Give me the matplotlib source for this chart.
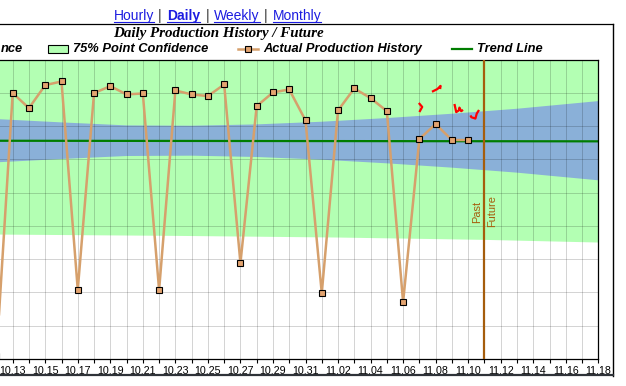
#!/usr/bin/env python3
"""
Daily production history / future chart (web report screenshot style).

Writes out.png, 626x386 px.
"""

import matplotlib
matplotlib.use("Agg")
import matplotlib.pyplot as plt
from matplotlib.lines import Line2D
from matplotlib.patches import Rectangle
from matplotlib.path import Path
import pandas as pd


# ---------------------------------------------------------------------------
# 1. Data
# ---------------------------------------------------------------------------

prod_dates = pd.date_range("2009-10-12", "2009-11-10", freq="D")
production = [
    10, 799, 754, 823, 834, 208, 799, 820, 795, 798,
    207, 807, 795, 790, 825, 288, 760, 801, 810, 717,
    198, 747, 813, 784, 745, 171, 661, 706, 658, 658,
]

trend_dates = pd.to_datetime(["2009-10-08", "2009-11-20"])
trend_values = [656, 654]

# blue band around the trend line
band_dates = pd.to_datetime([
    "2009-10-09", "2009-10-12", "2009-10-16", "2009-10-20", "2009-10-24",
    "2009-10-28", "2009-11-01", "2009-11-05", "2009-11-09", "2009-11-13",
    "2009-11-18",
])
band_upper = [730, 721, 711, 702, 701, 705, 713, 724, 737, 752, 775]
band_lower = [582, 591, 601, 610, 611, 607, 599, 588, 575, 560, 537]

# 75% point confidence (green)
conf_dates = pd.to_datetime([
    "2009-10-09", "2009-10-23", "2009-11-02", "2009-11-11", "2009-11-18",
])
conf_upper = [937, 942, 947, 954, 962]
conf_lower = [375, 370, 365, 358, 350]

split_date = pd.Timestamp("2009-11-11")

tick_days = pd.date_range("2009-10-13", "2009-11-18", freq="D")
tick_labels = [d.strftime("%m.%d") if i % 2 == 0 else "" for i, d in enumerate(tick_days)]

# red hand marks near the latest points
mark_dates = pd.to_datetime([
    "2009-11-08 01:00", "2009-11-07 01:00", "2009-11-09 09:00", "2009-11-10 09:00",
])
mark_values = [812, 758, 754, 736]

nav_items = ["Hourly", "Daily", "Weekly", "Monthly"]
title = "Daily Production History / Future"


# ---------------------------------------------------------------------------
# 2. Styling
# ---------------------------------------------------------------------------

W, H = 626, 386
GREEN_FILL = "#b3ffb3"
BLUE_FILL = "#8ab0d8"
PROD_COLOUR = "#d6a06c"
MARKER_FILL = "#e3a470"
TREND_COLOUR = "#007d00"
SPLIT_COLOUR = "#a55d0c"
LINK_BLUE = "#1c1ce0"
GRID_COLOUR = (0.0, 0.0, 0.0, 0.17)


def fx(px):
    return px / W


def fy(py):
    return 1 - py / H


def mark_path(verts):
    codes = [Path.MOVETO] + [Path.LINETO] * (len(verts) - 1)
    return Path(verts, codes)


MARK_SHAPES = [
    mark_path([(-1, -0.5), (0.2, 0.1), (0.9, 0.8), (0.8, 0.1)]),
    mark_path([(-0.3, 0.8), (0.3, 0.1), (-0.2, -0.8)]),
    mark_path([(-0.9, 1), (-0.5, -0.8), (0.1, -0.4), (0.2, 0.2), (0.6, -0.6), (1, -0.3)]),
    mark_path([(1, 1), (0.5, 0.2), (0.2, -0.9), (-0.7, -0.6), (-0.9, -0.2)]),
]


# ---------------------------------------------------------------------------
# 3. Plot
# ---------------------------------------------------------------------------

fig = plt.figure(figsize=(W / 100, H / 100), dpi=100)
fig.patch.set_facecolor("white")

# axes runs off the left edge of the picture (cropped screenshot)
ax_left, ax_right, ax_top, ax_bottom = -40, 598.3, 59.5, 359
first_tick_px = 12.7
day_px = (ax_right - first_tick_px) / 36
ax = fig.add_axes([fx(ax_left), fy(ax_bottom),
                   (ax_right - ax_left) / W, (ax_bottom - ax_top) / H])

ax.fill_between(conf_dates, conf_lower, conf_upper, color=GREEN_FILL, lw=0, zorder=0.5)
ax.fill_between(band_dates, band_lower, band_upper, color=BLUE_FILL, lw=0, zorder=0.6)

# grid drawn as plain 1px lines so the translucent grey tints the fills
for d in tick_days:
    ax.axvline(d, color=GRID_COLOUR, lw=0.72, zorder=1.5)
for v in range(100, 900, 100):
    ax.axhline(v, color=GRID_COLOUR, lw=0.72, zorder=1.5)

ax.plot(trend_dates, trend_values, color=TREND_COLOUR, lw=1.6, zorder=2)
ax.plot(prod_dates, production, color=PROD_COLOUR, lw=1.8, zorder=3,
        marker="s", markersize=4.1, markerfacecolor=MARKER_FILL,
        markeredgecolor="black", markeredgewidth=0.8)

for d, v, shape in zip(mark_dates, mark_values, MARK_SHAPES):
    ax.plot([d], [v], linestyle="none", marker=shape, markersize=6.5,
            markerfacecolor="none", markeredgecolor="#ff0000",
            markeredgewidth=1.6, zorder=4)

ax.axvline(split_date, color=SPLIT_COLOUR, lw=1.6, zorder=3)
ax.annotate("Past", xy=(split_date, 442), xytext=(-7, 0), textcoords="offset pixels",
            rotation=90, ha="center", va="center", fontsize=7.9,
            family="Liberation Sans", color=SPLIT_COLOUR)
ax.annotate("Future", xy=(split_date, 444), xytext=(8, 0), textcoords="offset pixels",
            rotation=90, ha="center", va="center", fontsize=7.9,
            family="Liberation Sans", color=SPLIT_COLOUR)

x_start = pd.Timestamp("2009-10-13") - pd.Timedelta(days=(first_tick_px - ax_left) / day_px)
ax.set_xlim(x_start, pd.Timestamp("2009-11-18"))
ax.set_ylim(0, 900)

ax.set_xticks(tick_days)
ax.set_xticklabels(tick_labels, fontsize=7.7, family="Liberation Sans")
ax.set_yticks([])
ax.tick_params(axis="x", direction="out", length=2.6, width=0.8, pad=2.2, color="black")

for side in ("top", "right", "bottom"):
    ax.spines[side].set_color("black")
    ax.spines[side].set_linewidth(0.9)
ax.spines["left"].set_visible(False)


# ---------------------------------------------------------------------------
# 4. Page furniture: nav links, title, legend, frame
# ---------------------------------------------------------------------------

def fig_line(x0, y0, x1, y1, **kw):
    fig.add_artist(Line2D([fx(x0), fx(x1)], [fy(y0), fy(y1)],
                          transform=fig.transFigure, **kw))


fig_line(0, 24, 612.5, 24, color="black", lw=0.9)
fig_line(612.5, 24, 612.5, 376, color="black", lw=1.0)
fig_line(0, 374.5, 612.5, 374.5, color="#2e3238", lw=1.6)

# nav links
nav_x = [114, 167, 214, 272.5]
sep_x = [160, 207.3, 265.7]
fig.canvas.draw()
renderer = fig.canvas.get_renderer()
for name, x in zip(nav_items, nav_x):
    t = fig.text(fx(x), fy(16), name, ha="left", va="center", fontsize=10,
                 family="Liberation Sans", color=LINK_BLUE,
                 fontweight="bold" if name == "Daily" else "normal")
    width = t.get_window_extent(renderer).width
    fig_line(x, 22, x + width, 22, color=LINK_BLUE, lw=0.8)
for x in sep_x:
    fig.text(fx(x), fy(16), "|", ha="center", va="center", fontsize=10,
             family="Liberation Sans", color="#333333")

fig.text(fx(218.5), fy(33.5), title, ha="center", va="center", fontsize=10.8,
         family="Liberation Serif", fontweight="bold", fontstyle="italic")

legend_y = 49
legend_font = dict(fontsize=9.25, family="Liberation Sans", fontweight="bold",
                   fontstyle="italic", va="center", ha="left")

# first legend entry is cut off by the left edge; only its tail shows
fig.text(fx(1), fy(legend_y), "nce", **legend_font)

fig.add_artist(Rectangle((fx(48.3), fy(53.3)), (67.7 - 48.3) / W, 8 / H,
                         transform=fig.transFigure, facecolor=GREEN_FILL,
                         edgecolor="black", lw=0.8))
fig.text(fx(73), fy(legend_y), "75% Point Confidence", **legend_font)

fig_line(238, legend_y, 258, legend_y, color=PROD_COLOUR, lw=1.8)
fig.add_artist(Line2D([fx(247.5)], [fy(legend_y)], transform=fig.transFigure,
                      marker="s", markersize=4.1, markerfacecolor=MARKER_FILL,
                      markeredgecolor="black", markeredgewidth=0.8))
fig.text(fx(263), fy(legend_y), "Actual Production History", **legend_font)

fig_line(452, legend_y, 472, legend_y, color=TREND_COLOUR, lw=1.6)
fig.text(fx(477), fy(legend_y), "Trend Line", **legend_font)

fig.savefig("out.png", dpi=100)
